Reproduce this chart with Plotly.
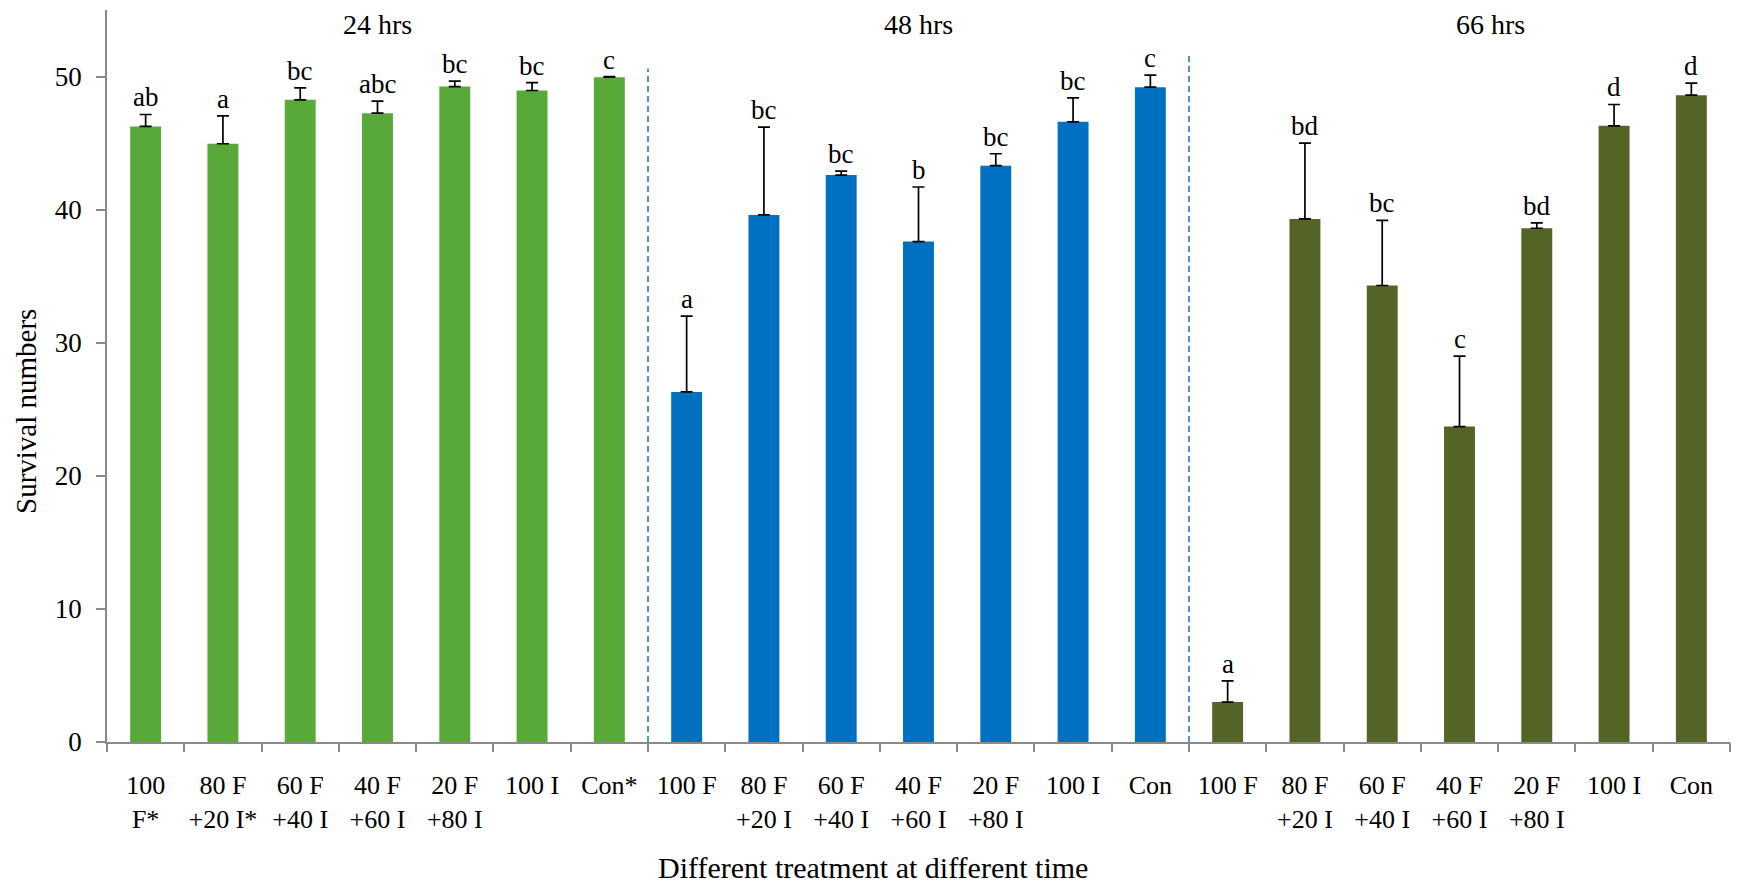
import plotly.graph_objects as go

# Treatments (two-line tick labels) for each sampling time
treatments_24 = ["100<br>F*", "80 F<br>+20 I*", "60 F<br>+40 I", "40 F<br>+60 I", "20 F<br>+80 I", "100 I", "Con*"]
treatments_48 = ["100 F", "80 F<br>+20 I", "60 F<br>+40 I", "40 F<br>+60 I", "20 F<br>+80 I", "100 I", "Con"]
treatments_66 = ["100 F", "80 F<br>+20 I", "60 F<br>+40 I", "40 F<br>+60 I", "20 F<br>+80 I", "100 I", "Con"]

time_labels = ["24 hrs", "48 hrs", "66 hrs"]

# Mean survival numbers
mean_24 = [46.25, 44.95, 48.25, 47.25, 49.25, 48.95, 49.95]
mean_48 = [26.3, 39.6, 42.6, 37.6, 43.3, 46.6, 49.2]
mean_66 = [3.0, 39.3, 34.3, 23.7, 38.6, 46.3, 48.6]

# Upper error (SE)
err_24 = [0.9, 2.1, 0.9, 0.9, 0.4, 0.6, 0.05]
err_48 = [5.7, 6.6, 0.3, 4.1, 0.9, 1.8, 0.9]
err_66 = [1.6, 5.7, 4.9, 5.3, 0.4, 1.6, 0.9]

# Significance letters
letters_24 = ["ab", "a", "bc", "abc", "bc", "bc", "c"]
letters_48 = ["a", "bc", "bc", "b", "bc", "bc", "c"]
letters_66 = ["a", "bd", "bc", "c", "bd", "d", "d"]

colors = ["#58A83A", "#0070C0", "#546426"]

groups = [
    (treatments_24, mean_24, err_24, letters_24),
    (treatments_48, mean_48, err_48, letters_48),
    (treatments_66, mean_66, err_66, letters_66),
]

FONT = "Liberation Serif, Times New Roman, serif"
AXIS_GREY = "#8A8A8A"

fig = go.Figure()
annotations = []
tickvals, ticktext = [], []
n_total = 0
group_starts = []

for g, (cats, means, errs, letters) in enumerate(groups):
    start = n_total
    group_starts.append(start)
    xs = [start + j for j in range(len(cats))]
    n_total += len(cats)
    tickvals += xs
    ticktext += cats
    fig.add_trace(go.Bar(
        x=xs, y=means, width=0.4,
        marker=dict(color=colors[g], line=dict(width=0)),
        error_y=dict(type="data", symmetric=False, array=errs,
                     arrayminus=[0] * len(errs), color="black",
                     thickness=1.7, width=6),
        showlegend=False, hoverinfo="x+y",
    ))
    for x, m, e, lab in zip(xs, means, errs, letters):
        annotations.append(dict(
            x=x, y=m + e, text=lab, showarrow=False, xanchor="center",
            yanchor="bottom", yshift=0, font=dict(family=FONT, size=27, color="black"),
        ))

# Time headings above each group
heading_x = [3, 10, 17.4]
for hx, t in zip(heading_x, time_labels):
    annotations.append(dict(x=hx, y=53.9, text=t, showarrow=False, xanchor="center",
                            yanchor="middle", font=dict(family=FONT, size=28, color="black")))

# Dashed separators between time groups
sep_tops = [50.6, 51.7]
shapes = []
for s, top in zip(group_starts[1:], sep_tops):
    shapes.append(dict(type="line", xref="x", yref="y", x0=s - 0.5, x1=s - 0.5, y0=0, y1=top,
                       line=dict(color="#2E75B6", width=1.6, dash="6px,4px")))

# Axis titles
annotations.append(dict(xref="paper", yref="paper", x=0.472, y=-0.172, text="Different treatment at different time",
                        showarrow=False, xanchor="center", yanchor="middle",
                        font=dict(family=FONT, size=30, color="black")))
annotations.append(dict(xref="paper", yref="paper", x=-0.05, y=0.452, text="Survival numbers",
                        textangle=-90, showarrow=False, xanchor="center", yanchor="middle",
                        font=dict(family=FONT, size=29, color="black")))

xrange = [-0.5, n_total - 0.5]
boundaries = [i - 0.5 for i in range(n_total + 1)]

# Invisible trace so the boundary-tick axis is drawn
fig.add_trace(go.Scatter(x=[xrange[0]], y=[0], xaxis="x2", mode="markers",
                         marker=dict(opacity=0), showlegend=False, hoverinfo="skip"))

fig.update_layout(
    width=1741, height=885,
    margin=dict(l=107, r=11, t=10, b=143),
    paper_bgcolor="white", plot_bgcolor="white",
    font=dict(family=FONT, size=26, color="black"),
    bargap=0.6,
    xaxis=dict(range=xrange, tickvals=tickvals, ticktext=ticktext, ticks="",
               showline=True, linecolor=AXIS_GREY, linewidth=1.5, showgrid=False,
               zeroline=False, tickfont=dict(family=FONT, size=26, color="black"),
               ticklabelstandoff=19),
    xaxis2=dict(range=xrange, overlaying="x", side="bottom", anchor="y", tickvals=boundaries,
                ticks="outside", ticklen=9, tickwidth=1.5, tickcolor=AXIS_GREY,
                showticklabels=False, showline=False, showgrid=False, zeroline=False),
    yaxis=dict(range=[0, 55], tickvals=[0, 10, 20, 30, 40, 50], ticks="outside", ticklen=9,
               tickwidth=1.5, tickcolor=AXIS_GREY, showline=True, linecolor=AXIS_GREY,
               linewidth=1.5, showgrid=False, zeroline=False, ticklabelstandoff=9,
               tickfont=dict(family=FONT, size=27, color="black")),
    annotations=annotations,
    shapes=shapes,
)

fig.write_html("out.html")
